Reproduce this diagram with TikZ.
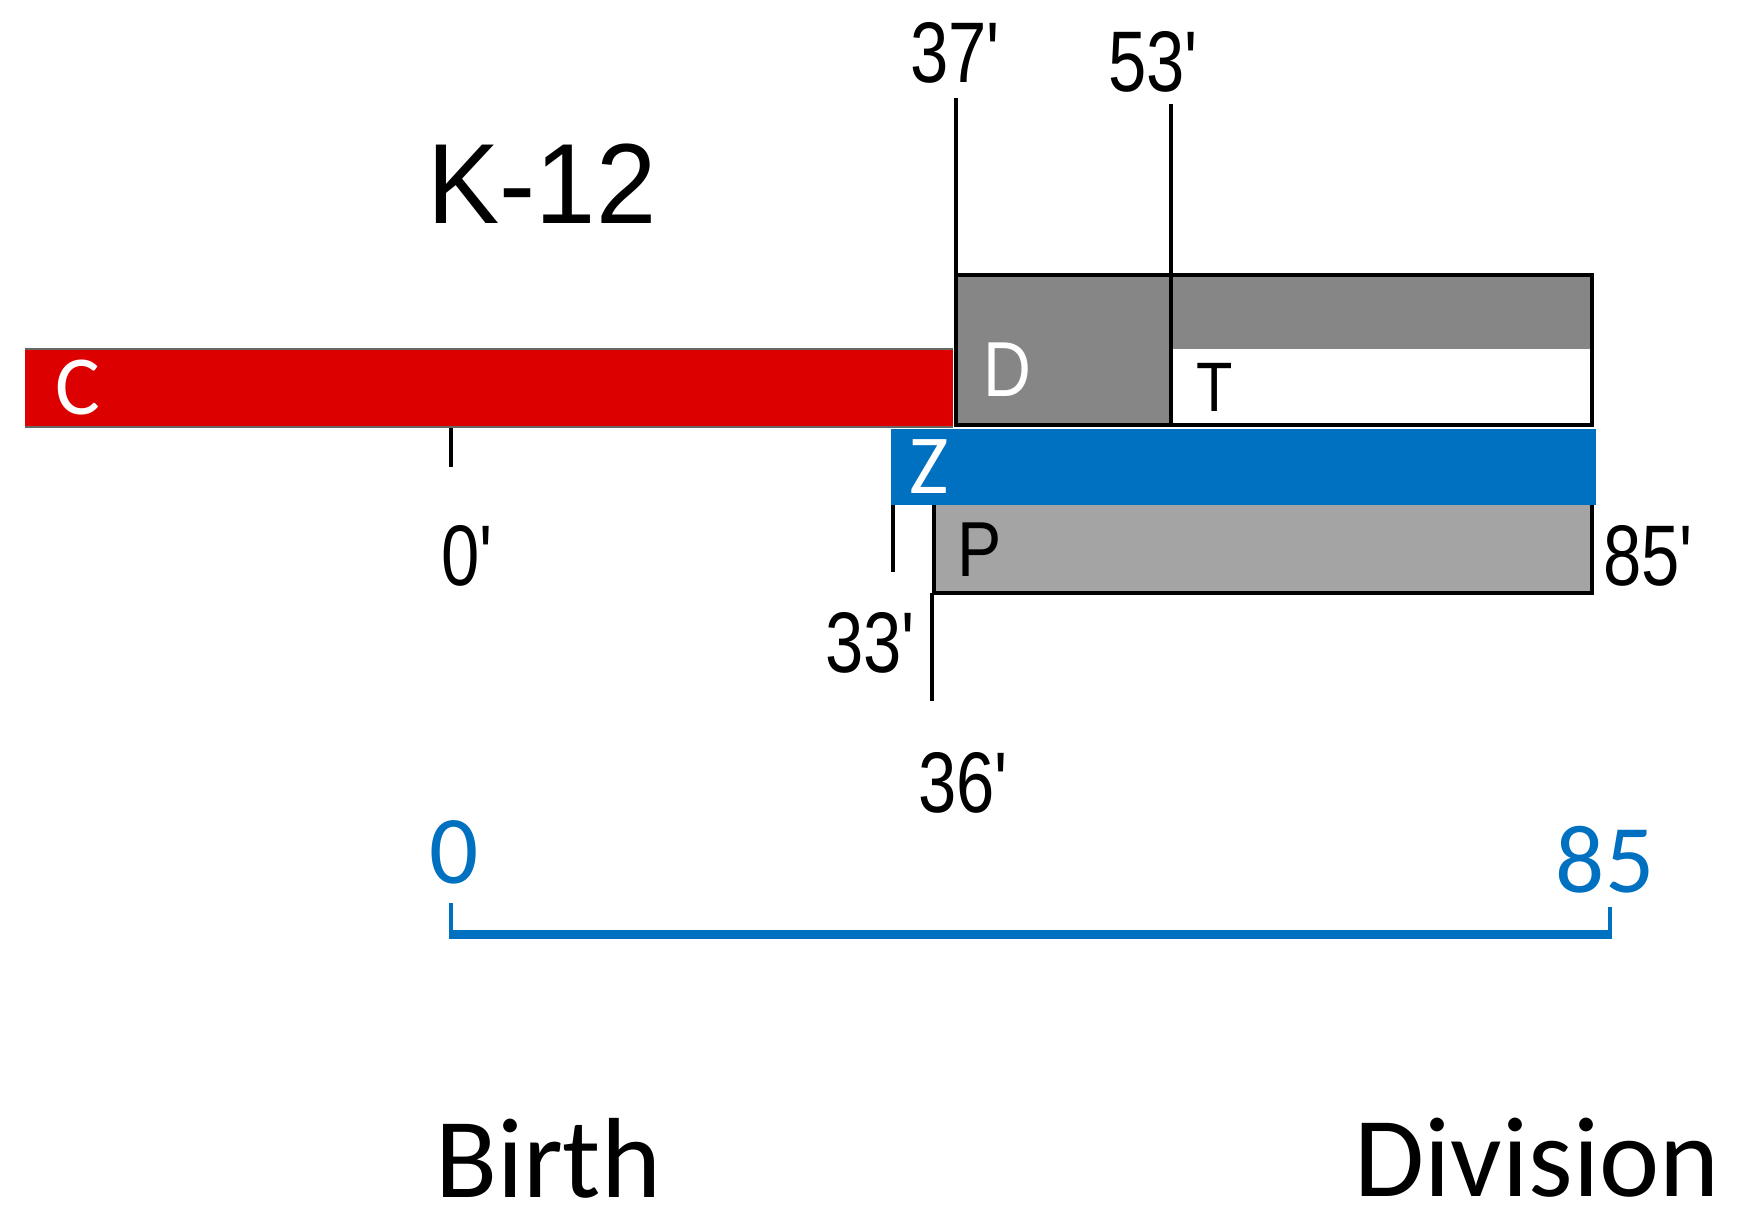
\documentclass[tikz,border=0pt]{standalone}
\usepackage{fontspec}
\setmainfont{Liberation Sans}
\newfontfamily\calfont{Carlito}
\definecolor{cred}{HTML}{DD0000}
\definecolor{cblue}{HTML}{0070C0}
\definecolor{gtop}{HTML}{868686}
\definecolor{gbot}{HTML}{A4A4A4}
\newcommand{\pr}{\textquotesingle}
\begin{document}
\begin{tikzpicture}[x=1pt,y=-1pt,
  tick/.style={line width=3.5pt,black},
  lbl/.style={inner sep=0pt,font=\fontsize{86}{86}\selectfont,xscale=0.8},
  barlbl/.style={inner sep=0pt,font=\calfont\fontsize{84}{84}\selectfont},
  bluelbl/.style={inner sep=0pt,text=cblue,font=\calfont\fontsize{97}{97}\selectfont},
  bottomlbl/.style={inner sep=0pt,font=\calfont\fontsize{114}{114}\selectfont}]
\useasboundingbox[fill=white] (0,0) rectangle (1753,1226);

% title
\node[inner sep=0pt,font=\fontsize{114}{114}\selectfont,xscale=0.95] (k12) at (542,184) {K-12};

% top grey box (D and T)
\fill[gtop] (956,275) rectangle (1592,425);
\fill[white] (1171,349) rectangle (1592,425);
\draw[line width=3.5pt] (956,275) rectangle (1592,425);

% red C bar
\fill[cred] (25,349) rectangle (953,427);
\draw[line width=1.5pt,black!60] (25,349) -- (953,349);
\draw[line width=1.5pt,black!60] (25,427) -- (953,427);

% blue Z bar
\fill[cblue] (891,429) rectangle (1596,505);

% P box
\fill[gbot] (934,505) rectangle (1592,593);
\draw[line width=3.5pt] (934,505) -- (934,593) -- (1592,593) -- (1592,505);

% labels in bars
\node[barlbl,text=white] (c) at (78,388) {C};
\node[inner sep=0pt,font=\fontsize{78}{78}\selectfont,xscale=0.85,text=white] (d) at (1007,370) {D};
\node[inner sep=0pt,font=\fontsize{70}{70}\selectfont,xscale=0.85] (t) at (1215,387) {T};
\node[barlbl,text=white] (z) at (929,467) {Z};
\node[inner sep=0pt,font=\fontsize{78}{78}\selectfont,xscale=0.85] (p) at (980,550) {P};

% time labels
\node[lbl] (l37) at (955,53) {37\pr};
\node[lbl] (l53) at (1153,62) {53\pr};
\node[lbl] (l0) at (467,556) {0\pr};
\node[lbl] (l33) at (870,643) {33\pr};
\node[lbl] (l36) at (963,783) {36\pr};
\node[lbl,anchor=west] (l85) at (1603,556) {85\pr};

% tick lines
\coordinate (t37a) at (956,98);  \coordinate (t37b) at (956,425);
\coordinate (t53a) at (1171,104); \coordinate (t53b) at (1171,425);
\coordinate (t0a) at (451,428);  \coordinate (t0b) at (451,467);
\coordinate (t33a) at (893,505); \coordinate (t33b) at (893,572);
\coordinate (t36a) at (932,593); \coordinate (t36b) at (932,701);
\draw[tick] (t37a) -- (t37b);
\draw[tick] (t53a) -- (t53b);
\draw[tick] (t0a) -- (t0b);
\draw[tick] (t33a) -- (t33b);
\draw[tick] (t36a) -- (t36b);

% blue scale
\node[bluelbl] (b0) at (454,852) {0};
\node[bluelbl] (b85) at (1605,860) {85};
\coordinate (s0a) at (451,903); \coordinate (s0b) at (451,934);
\coordinate (s85a) at (1610,907); \coordinate (s85b) at (1610,934);
\draw[cblue,line width=4.5pt] (s0a) -- (s0b);
\draw[cblue,line width=4.5pt] (s85a) -- (s85b);
\draw[cblue,line width=9pt] ([xshift=-2pt]s0b) -- ([xshift=2pt]s85b);

% birth / division
\node[bottomlbl] (birth) at (548,1158) {Birth};
\node[bottomlbl] (division) at (1537,1158) {Division};
\end{tikzpicture}
\end{document}
